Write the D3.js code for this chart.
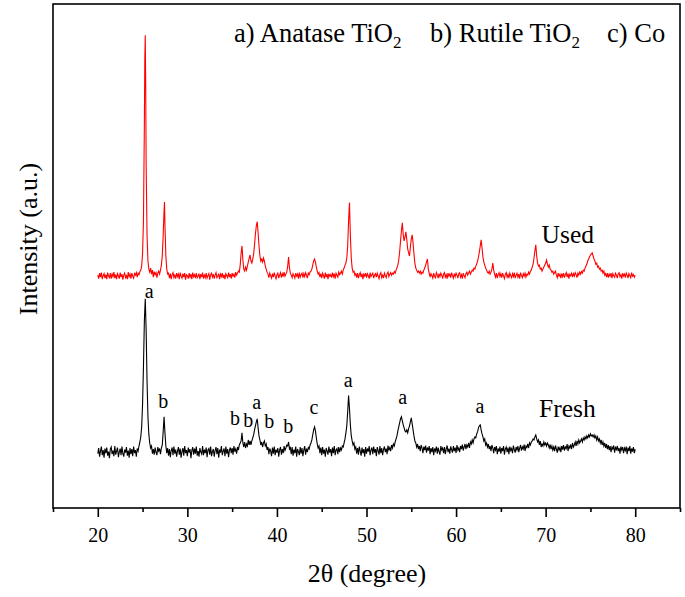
<!DOCTYPE html>
<html>
<head>
<meta charset="utf-8">
<script src="https://cdn.jsdelivr.net/npm/d3@7"></script>
<style>
  body { margin: 0; background: #fff; }
  svg { display: block; font-family: "Liberation Serif", "Times New Roman", serif; }
</style>
</head>
<body>
<div class="center"></div>
<script>
// XRD patterns, [2theta, counts above each pattern's own baseline]
const usedPattern = [
  [20.0,2],[20.1,-5],[20.2,6],[20.3,-2],[20.4,7],[20.5,-6],[20.6,1],[20.7,5],[20.8,-4],[20.9,3],
  [21.0,-6],[21.1,7],[21.2,0],[21.3,-3],[21.4,6],[21.5,-5],[21.6,4],[21.7,-1],[21.8,8],[21.9,-4],
  [22.0,3],[22.1,-6],[22.2,5],[22.3,1],[22.4,-5],[22.5,7],[22.6,-2],[22.7,4],[22.8,-7],[22.9,2],
  [23.0,6],[23.1,-3],[23.2,1],[23.3,-6],[23.4,8],[23.5,-1],[23.6,4],[23.7,-5],[23.8,6],[23.9,0],
  [24.0,-4],[24.1,5],[24.2,2],[24.3,7],[24.4,-2],[24.5,6],[24.6,3],[24.7,9],[24.8,12],[24.9,20],
  [25.0,45],[25.1,110],[25.2,300],[25.25,430],[25.3,478],[25.35,380],[25.4,220],[25.5,80],[25.6,30],[25.7,14],
  [25.8,8],[25.9,16],[26.0,4],[26.1,12],[26.2,-2],[26.3,9],[26.4,3],[26.5,7],[26.6,-3],[26.7,6],
  [26.8,10],[26.9,4],[27.0,12],[27.1,22],[27.2,40],[27.3,80],[27.4,130],[27.45,147],[27.5,100],[27.6,40],
  [27.7,14],[27.8,4],[27.9,6],[28.0,-4],[28.1,5],[28.2,-6],[28.3,3],[28.4,7],[28.5,-3],[28.6,2],
  [28.7,-5],[28.8,6],[28.9,-1],[29.0,4],[29.1,-6],[29.2,7],[29.3,0],[29.4,-4],[29.5,5],[29.6,-2],
  [29.7,6],[29.8,-7],[29.9,3],[30.0,1],[30.1,-5],[30.2,6],[30.3,-2],[30.4,4],[30.5,-6],[30.6,7],
  [30.7,-1],[30.8,3],[30.9,-4],[31.0,6],[31.1,-3],[31.2,0],[31.3,5],[31.4,-6],[31.5,4],[31.6,-2],
  [31.7,7],[31.8,-5],[31.9,2],[32.0,-3],[32.1,6],[32.2,-4],[32.3,1],[32.4,5],[32.5,-7],[32.6,3],
  [32.7,6],[32.8,-2],[32.9,4],[33.0,-5],[33.1,2],[33.2,7],[33.3,-3],[33.4,0],[33.5,5],[33.6,-6],
  [33.7,4],[33.8,-1],[33.9,6],[34.0,-4],[34.1,3],[34.2,-6],[34.3,5],[34.4,1],[34.5,-3],[34.6,7],
  [34.7,-2],[34.8,4],[34.9,-5],[35.0,6],[35.1,0],[35.2,4],[35.3,-3],[35.4,8],[35.5,2],[35.6,6],
  [35.7,10],[35.8,8],[35.9,22],[36.0,45],[36.1,60],[36.2,32],[36.3,14],[36.4,10],[36.5,18],[36.6,12],
  [36.7,20],[36.8,28],[36.9,36],[37.0,42],[37.1,30],[37.2,26],[37.3,34],[37.4,44],[37.5,62],[37.6,84],
  [37.7,100],[37.8,108],[37.9,86],[38.0,60],[38.1,40],[38.2,30],[38.3,34],[38.4,28],[38.5,36],[38.6,30],
  [38.7,20],[38.8,14],[38.9,8],[39.0,4],[39.1,-3],[39.2,6],[39.3,1],[39.4,-4],[39.5,5],[39.6,-2],
  [39.7,7],[39.8,0],[39.9,-5],[40.0,3],[40.1,6],[40.2,-4],[40.3,2],[40.4,7],[40.5,-3],[40.6,5],
  [40.7,-1],[40.8,8],[40.9,0],[41.0,4],[41.1,8],[41.2,20],[41.3,38],[41.4,16],[41.5,6],[41.6,2],
  [41.7,-3],[41.8,5],[41.9,1],[42.0,-4],[42.1,6],[42.2,0],[42.3,4],[42.4,-5],[42.5,7],[42.6,-2],
  [42.7,3],[42.8,6],[42.9,-3],[43.0,5],[43.1,-1],[43.2,7],[43.3,2],[43.4,-4],[43.5,6],[43.6,3],
  [43.7,8],[43.8,10],[43.9,14],[44.0,22],[44.1,30],[44.2,34],[44.3,28],[44.4,18],[44.5,10],[44.6,4],
  [44.7,7],[44.8,-2],[44.9,5],[45.0,-4],[45.1,6],[45.2,1],[45.3,-5],[45.4,7],[45.5,-2],[45.6,4],
  [45.7,-6],[45.8,5],[45.9,0],[46.0,3],[46.1,-3],[46.2,7],[46.3,-1],[46.4,5],[46.5,-5],[46.6,6],
  [46.7,2],[46.8,-2],[46.9,8],[47.0,3],[47.1,6],[47.2,10],[47.3,4],[47.4,12],[47.5,16],[47.6,22],
  [47.7,26],[47.8,36],[47.9,60],[48.0,110],[48.1,146],[48.2,80],[48.3,36],[48.4,16],[48.5,8],[48.6,10],
  [48.7,2],[48.8,5],[48.9,-3],[49.0,6],[49.1,-4],[49.2,3],[49.3,7],[49.4,-2],[49.5,5],[49.6,-6],
  [49.7,4],[49.8,0],[49.9,6],[50.0,-3],[50.1,5],[50.2,1],[50.3,-5],[50.4,7],[50.5,-1],[50.6,3],
  [50.7,6],[50.8,-4],[50.9,2],[51.0,5],[51.1,-2],[51.2,6],[51.3,0],[51.4,-5],[51.5,4],[51.6,7],
  [51.7,-3],[51.8,2],[51.9,-4],[52.0,6],[52.1,1],[52.2,-3],[52.3,5],[52.4,8],[52.5,-1],[52.6,4],
  [52.7,7],[52.8,2],[52.9,6],[53.0,4],[53.1,9],[53.2,6],[53.3,12],[53.4,16],[53.5,22],[53.6,32],
  [53.7,48],[53.8,70],[53.9,90],[54.0,106],[54.1,82],[54.2,70],[54.3,78],[54.4,88],[54.5,72],[54.6,54],
  [54.7,46],[54.8,40],[54.9,58],[55.0,74],[55.1,82],[55.2,66],[55.3,44],[55.4,26],[55.5,16],[55.6,12],
  [55.7,8],[55.8,10],[55.9,6],[56.0,10],[56.1,4],[56.2,8],[56.3,6],[56.4,12],[56.5,16],[56.6,22],
  [56.7,28],[56.8,34],[56.9,14],[57.0,6],[57.1,-2],[57.2,5],[57.3,1],[57.4,-4],[57.5,6],[57.6,0],
  [57.7,-3],[57.8,7],[57.9,2],[58.0,-4],[58.1,5],[58.2,-1],[58.3,6],[58.4,2],[58.5,-5],[58.6,4],
  [58.7,7],[58.8,-2],[58.9,3],[59.0,-5],[59.1,6],[59.2,0],[59.3,4],[59.4,-3],[59.5,7],[59.6,1],
  [59.7,-4],[59.8,5],[59.9,-1],[60.0,6],[60.1,2],[60.2,-4],[60.3,5],[60.4,7],[60.5,-2],[60.6,3],
  [60.7,-5],[60.8,6],[60.9,1],[61.0,-3],[61.1,5],[61.2,8],[61.3,2],[61.4,6],[61.5,10],[61.6,4],
  [61.7,8],[61.8,12],[61.9,10],[62.0,16],[62.1,14],[62.2,20],[62.3,24],[62.4,30],[62.5,38],[62.6,48],
  [62.7,60],[62.8,72],[62.9,56],[63.0,38],[63.1,28],[63.2,22],[63.3,16],[63.4,12],[63.5,8],[63.6,6],
  [63.7,10],[63.8,4],[63.9,8],[64.0,14],[64.1,26],[64.2,12],[64.3,4],[64.4,-2],[64.5,6],[64.6,-4],
  [64.7,3],[64.8,7],[64.9,-1],[65.0,5],[65.1,-3],[65.2,6],[65.3,0],[65.4,-5],[65.5,4],[65.6,7],
  [65.7,-2],[65.8,3],[65.9,-4],[66.0,6],[66.1,1],[66.2,-3],[66.3,5],[66.4,-1],[66.5,7],[66.6,-4],
  [66.7,2],[66.8,6],[66.9,-2],[67.0,4],[67.1,-5],[67.2,7],[67.3,1],[67.4,-3],[67.5,5],[67.6,0],
  [67.7,6],[67.8,-2],[67.9,4],[68.0,2],[68.1,8],[68.2,4],[68.3,10],[68.4,12],[68.5,18],[68.6,24],
  [68.7,36],[68.8,50],[68.9,62],[69.0,40],[69.1,26],[69.2,20],[69.3,22],[69.4,14],[69.5,16],[69.6,10],
  [69.7,14],[69.8,18],[69.9,22],[70.0,26],[70.1,32],[70.2,24],[70.3,18],[70.4,22],[70.5,14],[70.6,12],
  [70.7,8],[70.8,10],[70.9,4],[71.0,7],[71.1,10],[71.2,2],[71.3,-3],[71.4,6],[71.5,0],[71.6,4],
  [71.7,-4],[71.8,5],[71.9,-1],[72.0,6],[72.1,-3],[72.2,3],[72.3,7],[72.4,-2],[72.5,5],[72.6,-5],
  [72.7,4],[72.8,1],[72.9,6],[73.0,-2],[73.1,5],[73.2,0],[73.3,7],[73.4,3],[73.5,-3],[73.6,6],
  [73.7,2],[73.8,8],[73.9,4],[74.0,9],[74.1,6],[74.2,12],[74.3,10],[74.4,16],[74.5,20],[74.6,24],
  [74.7,30],[74.8,34],[74.9,38],[75.0,42],[75.1,44],[75.2,46],[75.3,40],[75.4,34],[75.5,30],[75.6,24],
  [75.7,26],[75.8,18],[75.9,20],[76.0,14],[76.1,16],[76.2,10],[76.3,12],[76.4,6],[76.5,10],[76.6,2],
  [76.7,5],[76.8,-2],[76.9,6],[77.0,-3],[77.1,4],[77.2,0],[77.3,6],[77.4,-4],[77.5,5],[77.6,1],
  [77.7,-2],[77.8,6],[77.9,2],[78.0,-4],[78.1,5],[78.2,7],[78.3,-1],[78.4,3],[78.5,-5],[78.6,6],
  [78.7,0],[78.8,4],[78.9,-3],[79.0,6],[79.1,2],[79.2,-4],[79.3,5],[79.4,1],[79.5,-3],[79.6,7],
  [79.7,0],[79.8,3],[79.9,-2],[80.0,2]
];

const freshPattern = [
  [20.0,-3],[20.1,8],[20.2,-9],[20.3,2],[20.4,11],[20.5,-6],[20.6,4],[20.7,-11],[20.8,7],[20.9,-2],
  [21.0,9],[21.1,-7],[21.2,1],[21.3,-12],[21.4,6],[21.5,10],[21.6,-4],[21.7,3],[21.8,-8],[21.9,12],
  [22.0,-5],[22.1,2],[22.2,9],[22.3,-10],[22.4,0],[22.5,7],[22.6,-6],[22.7,11],[22.8,-3],[22.9,-9],
  [23.0,5],[23.1,-1],[23.2,10],[23.3,-7],[23.4,3],[23.5,-11],[23.6,8],[23.7,-4],[23.8,6],[23.9,-8],
  [24.0,11],[24.1,-2],[24.2,4],[24.3,-9],[24.4,7],[24.5,2],[24.6,12],[24.7,20],[24.8,30],[24.9,50],
  [25.0,95],[25.1,170],[25.2,260],[25.3,304],[25.4,240],[25.5,140],[25.6,70],[25.7,35],[25.8,18],[25.9,8],
  [26.0,12],[26.1,-3],[26.2,6],[26.3,-5],[26.4,9],[26.5,0],[26.6,-6],[26.7,10],[26.8,2],[26.9,7],
  [27.0,-4],[27.1,8],[27.2,14],[27.3,40],[27.4,70],[27.5,38],[27.6,12],[27.7,-2],[27.8,8],[27.9,-7],
  [28.0,6],[28.1,-10],[28.2,3],[28.3,9],[28.4,-6],[28.5,11],[28.6,-3],[28.7,5],[28.8,-9],[28.9,2],
  [29.0,10],[29.1,-5],[29.2,7],[29.3,-11],[29.4,1],[29.5,8],[29.6,-7],[29.7,12],[29.8,-2],[29.9,4],
  [30.0,-8],[30.1,9],[30.2,-1],[30.3,6],[30.4,-12],[30.5,3],[30.6,10],[30.7,-5],[30.8,7],[30.9,-3],
  [31.0,11],[31.1,-7],[31.2,2],[31.3,-9],[31.4,8],[31.5,0],[31.6,-4],[31.7,12],[31.8,-6],[31.9,5],
  [32.0,-2],[32.1,9],[32.2,-10],[32.3,4],[32.4,7],[32.5,-5],[32.6,11],[32.7,-8],[32.8,1],[32.9,6],
  [33.0,-9],[33.1,3],[33.2,10],[33.3,-4],[33.4,8],[33.5,-11],[33.6,5],[33.7,-1],[33.8,12],[33.9,-6],
  [34.0,2],[34.1,7],[34.2,-8],[34.3,11],[34.4,-3],[34.5,6],[34.6,-10],[34.7,4],[34.8,9],[34.9,-2],
  [35.0,8],[35.1,-5],[35.2,12],[35.3,1],[35.4,6],[35.5,-3],[35.6,10],[35.7,4],[35.8,14],[35.9,18],
  [36.0,22],[36.1,38],[36.2,18],[36.3,10],[36.4,20],[36.5,8],[36.6,16],[36.7,12],[36.8,24],[36.9,14],
  [37.0,22],[37.1,14],[37.2,22],[37.3,28],[37.4,34],[37.5,44],[37.6,52],[37.7,60],[37.8,66],[37.9,48],
  [38.0,32],[38.1,24],[38.2,14],[38.3,20],[38.4,10],[38.5,18],[38.6,22],[38.7,12],[38.8,16],[38.9,4],
  [39.0,10],[39.1,-4],[39.2,7],[39.3,2],[39.4,-8],[39.5,9],[39.6,-3],[39.7,11],[39.8,-6],[39.9,5],
  [40.0,-1],[40.1,8],[40.2,-9],[40.3,4],[40.4,10],[40.5,-5],[40.6,6],[40.7,-2],[40.8,12],[40.9,3],
  [41.0,8],[41.1,14],[41.2,12],[41.3,20],[41.4,6],[41.5,9],[41.6,-4],[41.7,10],[41.8,-7],[41.9,5],
  [42.0,-2],[42.1,11],[42.2,-9],[42.3,6],[42.4,1],[42.5,-6],[42.6,10],[42.7,-3],[42.8,8],[42.9,-8],
  [43.0,4],[43.1,12],[43.2,-5],[43.3,7],[43.4,0],[43.5,9],[43.6,6],[43.7,14],[43.8,18],[43.9,24],
  [44.0,34],[44.1,44],[44.2,50],[44.3,42],[44.4,28],[44.5,16],[44.6,8],[44.7,12],[44.8,-2],[44.9,9],
  [45.0,-6],[45.1,10],[45.2,-3],[45.3,5],[45.4,-9],[45.5,8],[45.6,2],[45.7,-5],[45.8,11],[45.9,-1],
  [46.0,6],[46.1,-8],[46.2,9],[46.3,-2],[46.4,12],[46.5,-6],[46.6,4],[46.7,7],[46.8,-4],[46.9,10],
  [47.0,0],[47.1,8],[47.2,4],[47.3,12],[47.4,10],[47.5,18],[47.6,26],[47.7,38],[47.8,52],[47.9,80],
  [48.0,112],[48.1,86],[48.2,54],[48.3,32],[48.4,22],[48.5,14],[48.6,18],[48.7,6],[48.8,10],[48.9,-3],
  [49.0,8],[49.1,-5],[49.2,11],[49.3,2],[49.4,-7],[49.5,9],[49.6,-2],[49.7,6],[49.8,-9],[49.9,10],
  [50.0,-3],[50.1,7],[50.2,1],[50.3,12],[50.4,-6],[50.5,4],[50.6,9],[50.7,-4],[50.8,11],[50.9,-1],
  [51.0,6],[51.1,-8],[51.2,10],[51.3,3],[51.4,-5],[51.5,12],[51.6,-2],[51.7,8],[51.8,-6],[51.9,5],
  [52.0,11],[52.1,0],[52.2,7],[52.3,-4],[52.4,13],[52.5,4],[52.6,9],[52.7,2],[52.8,14],[52.9,8],
  [53.0,16],[53.1,12],[53.2,20],[53.3,26],[53.4,32],[53.5,42],[53.6,50],[53.7,58],[53.8,66],[53.9,70],
  [54.0,62],[54.1,54],[54.2,48],[54.3,42],[54.4,40],[54.5,44],[54.6,38],[54.7,46],[54.8,52],[54.9,60],
  [55.0,68],[55.1,56],[55.2,44],[55.3,32],[55.4,22],[55.5,18],[55.6,10],[55.7,16],[55.8,6],[55.9,12],
  [56.0,2],[56.1,14],[56.2,8],[56.3,-2],[56.4,11],[56.5,4],[56.6,13],[56.7,-1],[56.8,9],[56.9,3],
  [57.0,12],[57.1,-4],[57.2,8],[57.3,0],[57.4,10],[57.5,-6],[57.6,7],[57.7,2],[57.8,11],[57.9,-3],
  [58.0,9],[58.1,1],[58.2,-5],[58.3,12],[58.4,4],[58.5,8],[58.6,-2],[58.7,10],[58.8,-4],[58.9,6],
  [59.0,13],[59.1,0],[59.2,7],[59.3,-3],[59.4,11],[59.5,5],[59.6,-1],[59.7,12],[59.8,2],[59.9,9],
  [60.0,-2],[60.1,14],[60.2,4],[60.3,8],[60.4,0],[60.5,12],[60.6,6],[60.7,15],[60.8,3],[60.9,10],
  [61.0,16],[61.1,6],[61.2,14],[61.3,10],[61.4,18],[61.5,8],[61.6,20],[61.7,16],[61.8,24],[61.9,18],
  [62.0,26],[62.1,30],[62.2,28],[62.3,36],[62.4,40],[62.5,48],[62.6,52],[62.7,54],[62.8,44],[62.9,36],
  [63.0,30],[63.1,22],[63.2,26],[63.3,14],[63.4,18],[63.5,10],[63.6,16],[63.7,6],[63.8,12],[63.9,2],
  [64.0,14],[64.1,8],[64.2,-2],[64.3,10],[64.4,4],[64.5,12],[64.6,-4],[64.7,7],[64.8,1],[64.9,11],
  [65.0,-3],[65.1,8],[65.2,2],[65.3,12],[65.4,-5],[65.5,6],[65.6,10],[65.7,0],[65.8,9],[65.9,-4],
  [66.0,11],[66.1,3],[66.2,7],[66.3,-2],[66.4,13],[66.5,5],[66.6,-1],[66.7,10],[66.8,4],[66.9,12],
  [67.0,0],[67.1,8],[67.2,14],[67.3,3],[67.4,10],[67.5,6],[67.6,15],[67.7,2],[67.8,12],[67.9,9],
  [68.0,16],[68.1,8],[68.2,18],[68.3,14],[68.4,20],[68.5,22],[68.6,26],[68.7,24],[68.8,30],[68.9,34],
  [69.0,26],[69.1,20],[69.2,24],[69.3,14],[69.4,22],[69.5,10],[69.6,16],[69.7,12],[69.8,20],[69.9,14],
  [70.0,18],[70.1,12],[70.2,18],[70.3,14],[70.4,8],[70.5,15],[70.6,6],[70.7,12],[70.8,4],[70.9,10],
  [71.0,2],[71.1,13],[71.2,6],[71.3,-1],[71.4,11],[71.5,4],[71.6,9],[71.7,0],[71.8,12],[71.9,5],
  [72.0,14],[72.1,3],[72.2,10],[72.3,7],[72.4,16],[72.5,2],[72.6,12],[72.7,8],[72.8,15],[72.9,6],
  [73.0,18],[73.1,10],[73.2,14],[73.3,20],[73.4,12],[73.5,22],[73.6,16],[73.7,24],[73.8,18],[73.9,22],
  [74.0,26],[74.1,20],[74.2,28],[74.3,24],[74.4,30],[74.5,26],[74.6,32],[74.7,28],[74.8,34],[74.9,30],
  [75.0,36],[75.1,32],[75.2,34],[75.3,30],[75.4,34],[75.5,28],[75.6,32],[75.7,24],[75.8,30],[75.9,22],
  [76.0,26],[76.1,18],[76.2,24],[76.3,14],[76.4,20],[76.5,12],[76.6,18],[76.7,8],[76.8,16],[76.9,6],
  [77.0,14],[77.1,4],[77.2,12],[77.3,0],[77.4,10],[77.5,6],[77.6,13],[77.7,-1],[77.8,9],[77.9,5],
  [78.0,12],[78.1,2],[78.2,8],[78.3,-3],[78.4,11],[78.5,4],[78.6,10],[78.7,-2],[78.8,8],[78.9,3],
  [79.0,11],[79.1,-4],[79.2,9],[79.3,2],[79.4,12],[79.5,-3],[79.6,7],[79.7,1],[79.8,10],[79.9,-2],
  [80.0,6]
];

// vertical stacking offsets of the two patterns
const usedOffset = 460;
const freshOffset = 111;

// phase letters over the fresh pattern: letter, 2theta, level
const peakLetters = ["a", "b", "b", "b", "a", "b", "b", "c", "a", "a", "a"];
const peakTheta   = [25.75, 27.31, 35.32, 36.8, 37.74, 39.15, 41.27, 44.14, 47.97, 54.04, 62.67];
const peakLevel   = [417, 198, 165, 161, 196, 158, 148, 187, 241, 206, 189];

// curve names: text, 2theta of left edge, level
const curveNames  = ["Used", "Fresh"];
const curveTheta  = [69.55, 69.26];
const curveLevel  = [525, 181];

const phaseKeys   = ["a)", "b)", "c)"];
const phaseNames  = ["Anatase TiO", "Rutile TiO", "Co"];
const phaseSubs   = ["2", "2", ""];

const majorTicks = [20, 30, 40, 50, 60, 70, 80];
const minorTicks = [15, 25, 35, 45, 55, 65, 75, 85];

const W = 685, H = 597;
const plot = {left: 53, right: 680, top: 4, bottom: 508};

const xScale = d3.scaleLinear().domain([15, 85]).range([plot.left, plot.right]);
const yScale = d3.scaleLinear().domain([0, 1000]).range([plot.bottom, plot.top]);

const svg = d3.select(".center").append("svg")
    .attr("width", W)
    .attr("height", H);

// curves
const line = offset => d3.line()
    .x(d => xScale(d[0]))
    .y(d => yScale(d[1] + offset));

svg.append("path")
    .datum(freshPattern)
    .attr("d", line(freshOffset))
    .attr("fill", "none")
    .attr("stroke", "#000")
    .attr("stroke-width", 1.1);

svg.append("path")
    .datum(usedPattern)
    .attr("d", line(usedOffset))
    .attr("fill", "none")
    .attr("stroke", "#ff0000")
    .attr("stroke-width", 1.1);

// frame
svg.append("rect")
    .attr("x", plot.left)
    .attr("y", plot.top)
    .attr("width", plot.right - plot.left)
    .attr("height", plot.bottom - plot.top)
    .attr("fill", "none")
    .attr("stroke", "#000")
    .attr("stroke-width", 1.6);

// bottom axis, major + minor ticks outside
const xAxis = d3.axisBottom(xScale)
    .tickValues(majorTicks)
    .tickSize(9)
    .tickFormat(d3.format("d"));

const gx = svg.append("g")
    .attr("transform", `translate(0,${plot.bottom})`)
    .call(xAxis);
gx.select(".domain").remove();
gx.selectAll("line").attr("stroke-width", 1.6);
gx.selectAll("text")
    .attr("y", 34)
    .attr("dy", null)
    .style("font-size", "20px")
    .style("font-family", "Liberation Serif")
    .attr("fill", "#000");

const gxMinor = svg.append("g")
    .attr("transform", `translate(0,${plot.bottom})`)
    .call(d3.axisBottom(xScale).tickValues(minorTicks).tickSize(4).tickFormat(""));
gxMinor.select(".domain").remove();
gxMinor.selectAll("line").attr("stroke-width", 1.6);

// axis titles
svg.append("text")
    .attr("x", 367)
    .attr("y", 582)
    .attr("text-anchor", "middle")
    .style("font-size", "26px")
    .text("2θ (degree)");

svg.append("text")
    .attr("transform", "rotate(-90)")
    .attr("x", -239)
    .attr("y", 37)
    .attr("text-anchor", "middle")
    .style("font-size", "26px")
    .text("Intensity (a.u.)");

// phase legend
const legendX = [234, 430, 607];
phaseKeys.forEach((k, i) => {
  const t = svg.append("text")
      .attr("x", legendX[i])
      .attr("y", 42)
      .style("font-size", "26.5px");
  t.append("tspan").text(k + " " + phaseNames[i]);
  if (phaseSubs[i]) {
    t.append("tspan")
        .attr("dy", 6)
        .style("font-size", "17px")
        .text(phaseSubs[i]);
  }
});

// peak letters
svg.selectAll(".peak")
    .data(peakLetters)
    .enter().append("text")
    .attr("class", "peak")
    .attr("x", (d, i) => xScale(peakTheta[i]))
    .attr("y", (d, i) => yScale(peakLevel[i]))
    .attr("text-anchor", "middle")
    .style("font-size", "20px")
    .text(d => d);

// curve names
svg.selectAll(".cname")
    .data(curveNames)
    .enter().append("text")
    .attr("class", "cname")
    .attr("x", (d, i) => xScale(curveTheta[i]))
    .attr("y", (d, i) => yScale(curveLevel[i]))
    .style("font-size", "25.5px")
    .text(d => d);
</script>
</body>
</html>
